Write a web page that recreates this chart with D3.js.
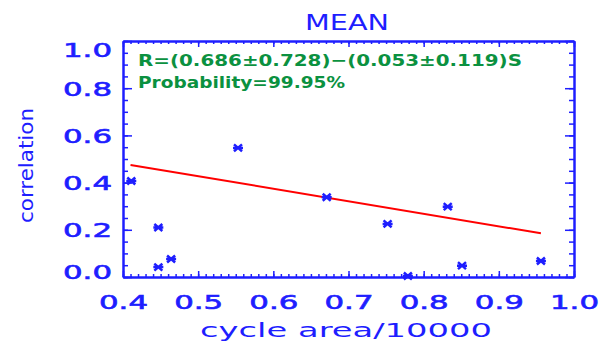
<!DOCTYPE html>
<html>
<head>
<meta charset="utf-8">
<script src="https://cdn.jsdelivr.net/npm/d3@7"></script>
<style>
  body { margin: 0; background: #fff; }
  svg { display: block; }
  text { font-family: "DejaVu Sans", sans-serif; }
</style>
</head>
<body>
<svg id="chart" width="599" height="341"></svg>
<script>
// data
var areaVals = [0.411, 0.447, 0.447, 0.464, 0.553, 0.671, 0.752, 0.779, 0.832, 0.851, 0.956]
var corrVals = [0.407, 0.210, 0.042, 0.076, 0.547, 0.338, 0.225, 0.004, 0.298, 0.048, 0.068]
var fitX = [0.41, 0.956]
var fitY = [0.475, 0.185]
var xTicks = [0.4, 0.5, 0.6, 0.7, 0.8, 0.9, 1.0]
var yTicks = [0.0, 0.2, 0.4, 0.6, 0.8, 1.0]
var fitText = "R=(0.686\u00b10.728)\u2212(0.053\u00b10.119)S"
var probText = "Probability=99.95%"

var blue = "#1e1eff"
var green = "#0b9140"

var svg = d3.select("#chart")
var margin = { top: 41, right: 25, bottom: 64, left: 123 }
var width = 599 - margin.left - margin.right
var height = 341 - margin.top - margin.bottom

var x = d3.scaleLinear().domain([0.4, 1.0]).range([0, width])
var y = d3.scaleLinear().domain([0, 1]).range([height, 0])

var g = svg.append("g").attr("transform", `translate(${margin.left}, ${margin.top})`)

var xMinor = d3.range(40, 101).map(d => d / 100)
var yMinor = d3.range(0, 21).map(d => d / 20)

var styleAxis = function (sel) {
    sel.selectAll("path").attr("stroke", blue).attr("stroke-width", 2)
    sel.selectAll("line").attr("stroke", blue).attr("stroke-width", 1.5)
}

// minor ticks
g.append("g").attr("transform", `translate(0, ${height})`)
    .call(d3.axisBottom(x).tickValues(xMinor).tickSize(-3).tickFormat("").tickSizeOuter(0))
    .call(styleAxis)
g.append("g")
    .call(d3.axisTop(x).tickValues(xMinor).tickSize(-3).tickFormat("").tickSizeOuter(0))
    .call(styleAxis)
g.append("g")
    .call(d3.axisLeft(y).tickValues(yMinor).tickSize(-5).tickFormat("").tickSizeOuter(0))
    .call(styleAxis)
g.append("g").attr("transform", `translate(${width}, 0)`)
    .call(d3.axisRight(y).tickValues(yMinor).tickSize(-5).tickFormat("").tickSizeOuter(0))
    .call(styleAxis)

// major ticks
var xAxis = g.append("g").attr("transform", `translate(0, ${height})`)
    .call(d3.axisBottom(x).tickValues(xTicks).tickSize(-6).tickFormat(d3.format(".1f")).tickSizeOuter(0))
    .call(styleAxis)
g.append("g")
    .call(d3.axisTop(x).tickValues(xTicks).tickSize(-6).tickFormat("").tickSizeOuter(0))
    .call(styleAxis)
var yAxis = g.append("g")
    .call(d3.axisLeft(y).tickValues(yTicks).tickSize(-9).tickFormat(d3.format(".1f")).tickSizeOuter(0))
    .call(styleAxis)
g.append("g").attr("transform", `translate(${width}, 0)`)
    .call(d3.axisRight(y).tickValues(yTicks).tickSize(-9).tickFormat("").tickSizeOuter(0))
    .call(styleAxis)

xAxis.selectAll("text")
    .attr("fill", blue).attr("stroke", blue).attr("stroke-width", 0.6)
    .attr("font-size", 19).attr("y", 0).attr("dy", 0)
    .attr("transform", "translate(0, 32)")
    .attr("textLength", 49).attr("lengthAdjust", "spacingAndGlyphs")
yAxis.selectAll("text")
    .attr("fill", blue).attr("stroke", blue).attr("stroke-width", 0.6)
    .attr("font-size", 19).attr("x", -11).attr("dy", 0)
    .attr("transform", d => d == 1 ? "translate(0, 15)" : d == 0 ? "translate(0, 1)" : "translate(0, 7)")
    .attr("textLength", 49).attr("lengthAdjust", "spacingAndGlyphs")

// fit line
var line = d3.line().x(d => x(d[0])).y(d => y(d[1]))
g.append("path")
    .datum(d3.zip(fitX, fitY))
    .attr("d", line)
    .attr("fill", "none")
    .attr("stroke", "#ff0000")
    .attr("stroke-width", 2)

// asterisk markers
var pts = d3.zip(areaVals, corrVals)
var star = "M-5,0H5M-4,-3.5L4,3.5M-4,3.5L4,-3.5"
g.selectAll("path.pt")
    .data(pts)
    .join("path")
    .attr("class", "pt")
    .attr("transform", d => `translate(${x(d[0])}, ${y(d[1])})`)
    .attr("d", star)
    .attr("stroke", blue)
    .attr("stroke-width", 2.5)

// annotations
svg.append("text").attr("x", 138).attr("y", 65.5)
    .attr("fill", green).attr("font-size", 16.5).attr("font-weight", "bold")
    .attr("textLength", 384).attr("lengthAdjust", "spacingAndGlyphs")
    .text(fitText)
svg.append("text").attr("x", 138).attr("y", 88.3)
    .attr("fill", green).attr("font-size", 16.5).attr("font-weight", "bold")
    .attr("textLength", 207).attr("lengthAdjust", "spacingAndGlyphs")
    .text(probText)

// title and axis titles
svg.append("text").attr("x", 347).attr("y", 30)
    .attr("text-anchor", "middle").attr("fill", blue).attr("font-size", 21)
    .attr("textLength", 84).attr("lengthAdjust", "spacingAndGlyphs")
    .text("MEAN")
svg.append("text").attr("x", 346).attr("y", 337)
    .attr("text-anchor", "middle").attr("fill", blue).attr("font-size", 20)
    .attr("textLength", 292).attr("lengthAdjust", "spacingAndGlyphs")
    .text("cycle area/10000")
svg.append("text")
    .attr("transform", "translate(33, 165.5) rotate(-90)")
    .attr("text-anchor", "middle").attr("fill", blue).attr("font-size", 20)
    .attr("textLength", 115).attr("lengthAdjust", "spacingAndGlyphs")
    .text("correlation")
</script>
</body>
</html>
